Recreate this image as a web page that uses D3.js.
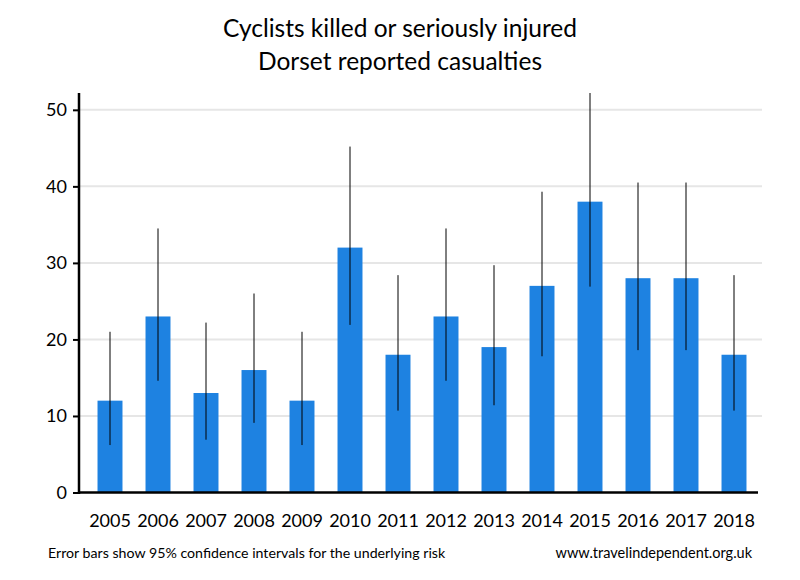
<!DOCTYPE html>
<html>
<head>
<meta charset="utf-8">
<script src="https://cdn.jsdelivr.net/npm/d3@7"></script>
<style>
  body { margin: 0; background: #fff; }
  svg { display: block; }
  text { font-family: Lato, "Open Sans", sans-serif; fill: #000; }
</style>
</head>
<body>
<svg id="chart" width="800" height="580"></svg>
<script>
const years = ["2005","2006","2007","2008","2009","2010","2011","2012","2013","2014","2015","2016","2017","2018"];
const casualties = [12, 23, 13, 16, 12, 32, 18, 23, 19, 27, 38, 28, 28, 18];
const lowerCI = [6.2, 14.6, 6.9, 9.1, 6.2, 21.9, 10.7, 14.6, 11.4, 17.8, 26.9, 18.6, 18.6, 10.7];
const upperCI = [21.0, 34.5, 22.2, 26.0, 21.0, 45.2, 28.4, 34.5, 29.7, 39.3, 52.2, 40.5, 40.5, 28.4];
const yTicks = [0, 10, 20, 30, 40, 50];
const titleLines = ["Cyclists killed or seriously injured", "Dorset reported casualties"];
const footLeft = "Error bars show 95% confidence intervals for the underlying risk";
const footRight = "www.travelindependent.org.uk";

const svg = d3.select("#chart");
const x0 = 79, x1 = 758, yTop = 93, yBase = 492.5;

const x = d3.scaleBand().domain(years).range([86, 758]).paddingInner(0.48).paddingOuter(0.24);
const y = d3.scaleLinear().domain([0, 52.2]).range([yBase, yTop]);

// gridlines
svg.append("g").selectAll("line").data(yTicks.filter(d => d > 0)).join("line")
  .attr("x1", x0).attr("x2", 762)
  .attr("y1", d => y(d)).attr("y2", d => y(d))
  .attr("stroke", "#e6e6e6").attr("stroke-width", 2);

// bars
svg.append("g").selectAll("rect").data(years).join("rect")
  .attr("x", d => x(d)).attr("width", x.bandwidth())
  .attr("y", (d, i) => y(casualties[i]))
  .attr("height", (d, i) => yBase - y(casualties[i]))
  .attr("fill", "#1e82e1");

// error bars
svg.append("g").selectAll("line").data(years).join("line")
  .attr("x1", d => x(d) + x.bandwidth() / 2).attr("x2", d => x(d) + x.bandwidth() / 2)
  .attr("y1", (d, i) => y(lowerCI[i])).attr("y2", (d, i) => y(upperCI[i]))
  .attr("stroke", "#000").attr("stroke-width", 1);

// y axis
const yAxis = d3.axisLeft(y).tickValues(yTicks).tickSize(6).tickPadding(6);
const gy = svg.append("g").attr("transform", `translate(${x0},0)`).call(yAxis);
gy.select(".domain").remove();
gy.selectAll(".tick line").attr("stroke", "#000").attr("stroke-width", 2);
gy.selectAll(".tick text").style("font-size", "18px").style("font-family", "Lato, sans-serif").attr("fill", "#000");
svg.append("line").attr("x1", x0).attr("x2", x0).attr("y1", yTop).attr("y2", yBase + 1.5)
  .attr("stroke", "#000").attr("stroke-width", 2.5);

// x axis
const xAxis = d3.axisBottom(x).tickSize(0).tickPadding(22);
const gx = svg.append("g").attr("transform", `translate(0,${yBase})`).call(xAxis);
gx.select(".domain").remove();
gx.selectAll(".tick text").style("font-size", "18px").style("font-family", "Lato, sans-serif").attr("fill", "#000");
svg.append("line").attr("x1", x0 - 1).attr("x2", x1).attr("y1", yBase).attr("y2", yBase)
  .attr("stroke", "#000").attr("stroke-width", 2.5);

// title
svg.append("g").selectAll("text").data(titleLines).join("text")
  .attr("x", 400).attr("y", (d, i) => 37 + i * 33)
  .attr("text-anchor", "middle").style("font-size", "24.5px").text(d => d);

// footer
svg.append("text").attr("x", 48).attr("y", 558).style("font-size", "14.2px").text(footLeft);
svg.append("text").attr("x", 752).attr("y", 558).attr("text-anchor", "end").style("font-size", "14.5px").text(footRight);
</script>
</body>
</html>
